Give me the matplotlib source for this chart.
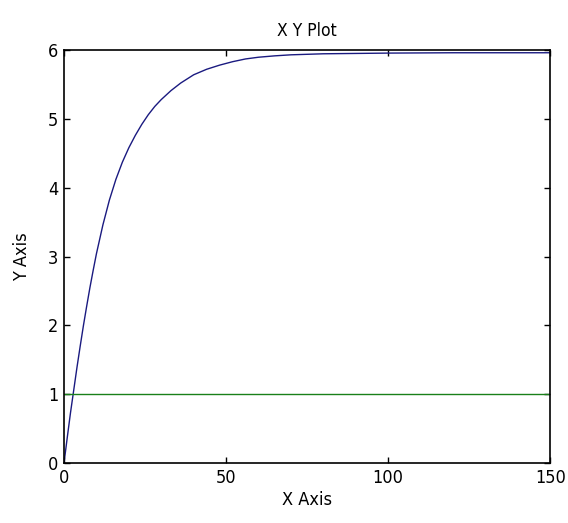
import matplotlib
matplotlib.use("Agg")
import matplotlib.pyplot as plt

# Data
x_vals = [0, 1, 2, 3, 4, 5, 6, 7, 8, 9, 10, 12, 14, 16, 18, 20, 22, 24, 26, 28, 30,
          33, 36, 40, 44, 48, 52, 56, 60, 65, 70, 80, 90, 100, 120, 150]
y_vals = [0, 0.37, 0.73, 1.06, 1.39, 1.70, 2.00, 2.28, 2.55, 2.80, 3.04, 3.46, 3.82, 4.12,
          4.37, 4.58, 4.76, 4.92, 5.06, 5.18, 5.28, 5.41, 5.52, 5.64, 5.72, 5.78, 5.83,
          5.87, 5.895, 5.915, 5.93, 5.945, 5.95, 5.955, 5.96, 5.96]
ref_x = [0, 150]
ref_y = [1, 1]
x_ticks = [0, 50, 100, 150]
y_ticks = [0, 1, 2, 3, 4, 5, 6]

plt.rcParams['font.family'] = ['DejaVu Sans']
plt.rcParams['font.stretch'] = 'condensed'

fig = plt.figure(figsize=(5.68, 5.23), dpi=100)
ax = fig.add_axes([0.1127, 0.1147, 0.856, 0.7897])

ax.plot(x_vals, y_vals, color='#1a1a80', linewidth=1.0)
ax.plot(ref_x, ref_y, color='#1a801a', linewidth=1.0)

ax.set_xlim(0, 150)
ax.set_ylim(0, 6)
ax.set_xticks(x_ticks)
ax.set_yticks(y_ticks)
ax.tick_params(direction='in', top=True, right=True, length=4, width=1,
               labelsize=13, colors='black', pad=4)
for s in ax.spines.values():
    s.set_linewidth(1.2)
    s.set_color('black')

ax.set_title('X Y Plot', fontsize=12.5, pad=10)
ax.set_xlabel('X Axis', fontsize=13, labelpad=3)
ax.set_ylabel('Y Axis', fontsize=13, labelpad=12)

fig.savefig('out.png', dpi=100)
